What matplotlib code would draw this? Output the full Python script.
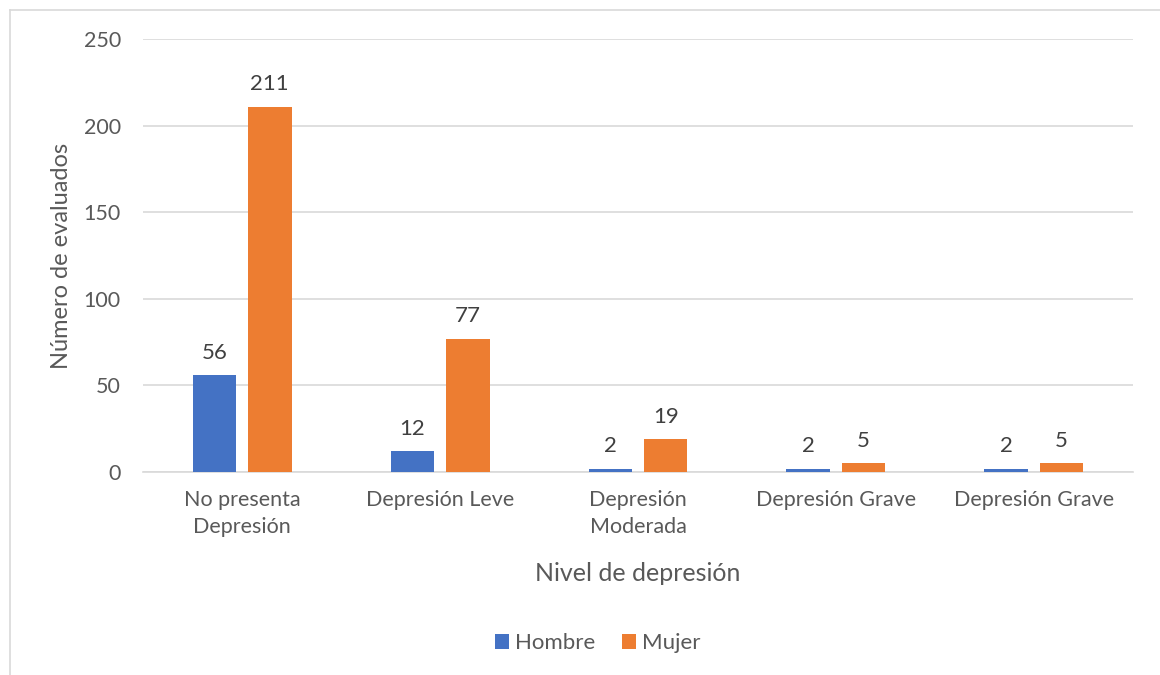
import matplotlib
matplotlib.use("Agg")
import matplotlib.pyplot as plt
import numpy as np
from matplotlib.lines import Line2D

categories = ["No presenta\nDepresión", "Depresión Leve", "Depresión\nModerada",
              "Depresión Grave", "Depresión Grave"]
hombre = [56, 12, 2, 2, 2]
mujer = [211, 77, 19, 5, 5]
yticks = [0, 50, 100, 150, 200, 250]

BLUE = "#4472C4"
ORANGE = "#ED7D31"
TEXT = "#595959"
GRID = "#D9D9D9"

plt.rcParams["font.family"] = ["Lato", "DejaVu Sans"]

fig = plt.figure(figsize=(11.6, 6.75), dpi=100)
ax = fig.add_axes([0.1233, 0.3007, 0.8534, 0.6415])

x = np.arange(len(categories))
width = 0.22
off = 0.14
b1 = ax.bar(x - off, hombre, width, color=BLUE, label="Hombre", zorder=3)
b2 = ax.bar(x + off, mujer, width, color=ORANGE, label="Mujer", zorder=3)

for bars, vals in [(b1, hombre), (b2, mujer)]:
    for bar, v in zip(bars, vals):
        ax.annotate(str(v), (bar.get_x() + bar.get_width() / 2, v),
                    textcoords="offset points", xytext=(0, 9),
                    ha="center", va="bottom", fontsize=16, color="#404040")

ax.set_xlim(-0.5, len(categories) - 0.5)
ax.set_ylim(0, 250)
ax.set_yticks(yticks)
ax.set_xticks(x)
ax.set_xticklabels(categories, fontsize=15.5, color=TEXT, linespacing=1.45)
ax.tick_params(axis="y", labelsize=15.5, labelcolor=TEXT, length=0, pad=16)
ax.tick_params(axis="x", length=0, pad=13)
ax.grid(True, axis="y", color=GRID, lw=1.2, zorder=0)
for s in ["top", "right", "left"]:
    ax.spines[s].set_visible(False)
ax.spines["bottom"].set_color(GRID)
ax.spines["bottom"].set_linewidth(1.2)

ax.set_xlabel("Nivel de depresión", fontsize=18, color=TEXT, labelpad=18)
ax.set_ylabel("Número de evaluados", fontsize=17, color=TEXT, labelpad=8)

fig.legend(handles=[b1, b2], loc="center", bbox_to_anchor=(0.515, 0.047),
           ncol=2, frameon=False, fontsize=16, labelcolor=TEXT,
           handlelength=0.65, handleheight=0.65, handletextpad=0.25,
           columnspacing=1.2)

# chart frame (only top and left edges visible in the crop)
fig.add_artist(Line2D([10 / 1160, 10 / 1160], [0, 1 - 10 / 675],
                      transform=fig.transFigure, color=GRID, lw=1.2))
fig.add_artist(Line2D([10 / 1160, 1], [1 - 10 / 675, 1 - 10 / 675],
                      transform=fig.transFigure, color=GRID, lw=1.2))

fig.savefig("out.png", dpi=100)
